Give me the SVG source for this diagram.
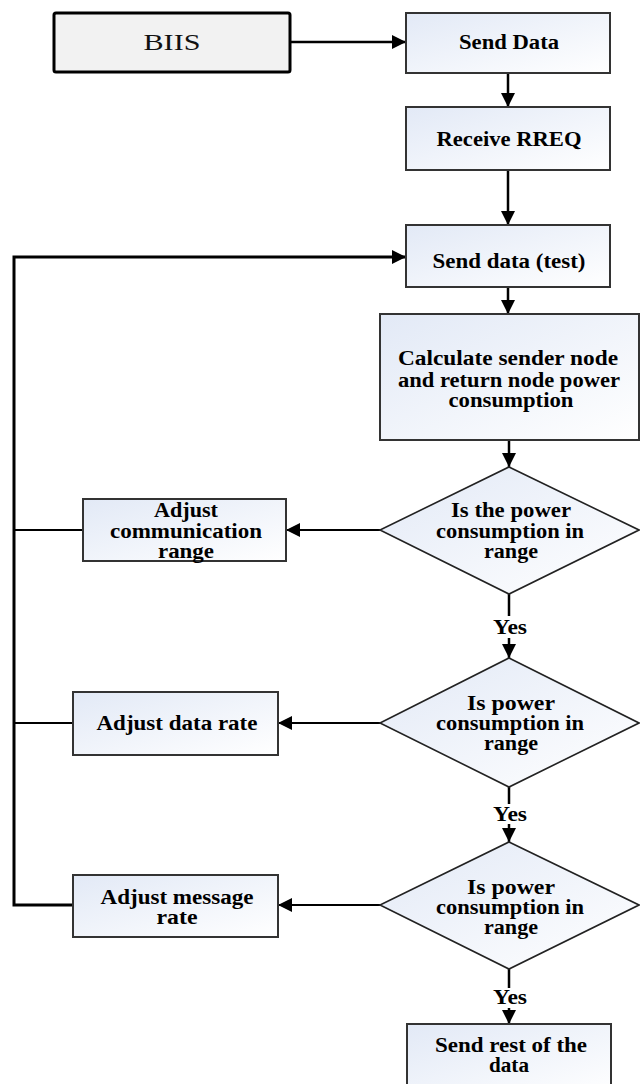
<svg xmlns="http://www.w3.org/2000/svg" width="640" height="1084" viewBox="0 0 640 1084">
<defs>
<linearGradient id="bf" x1="0" y1="0" x2="1" y2="1">
<stop offset="0" stop-color="#e2e9f6"/>
<stop offset="1" stop-color="#ffffff"/>
</linearGradient>
<marker id="ah" viewBox="0 0 14 14" refX="14" refY="7" markerWidth="14" markerHeight="14" markerUnits="userSpaceOnUse" orient="auto">
<path d="M0,0 L14,7 L0,14 z" fill="#000"/>
</marker>
</defs>
<style>
.box{fill:url(#bf);stroke:#333;stroke-width:2}
.dia{fill:url(#bf);stroke:#222;stroke-width:1.6}
.t{font-family:"Liberation Serif","Times New Roman",serif;font-weight:bold;font-size:20px;fill:#000;text-anchor:middle}
.c{fill:none;stroke:#000;stroke-width:2.5}
.c2{fill:none;stroke:#000;stroke-width:2}
.loop{fill:none;stroke:#000;stroke-width:3}
</style>
<rect width="640" height="1084" fill="#fff"/>
<g id="connectors">
<path class="c" d="M290,42 H406" marker-end="url(#ah)"/>
<path class="c" d="M508,73 V107" marker-end="url(#ah)"/>
<path class="c" d="M508,170 V225" marker-end="url(#ah)"/>
<path class="c" d="M508,287 V314" marker-end="url(#ah)"/>
<path class="c" d="M509,440 V467" marker-end="url(#ah)"/>
<path class="c2" d="M380,530 H286" marker-end="url(#ah)"/>
<path class="c2" d="M380,723 H278" marker-end="url(#ah)"/>
<path class="c2" d="M380,905 H278" marker-end="url(#ah)"/>
<path class="c" d="M509,594 V616"/>
<path class="c" d="M509,638 V658" marker-end="url(#ah)"/>
<path class="c" d="M509,787 V804"/>
<path class="c" d="M509,824 V842" marker-end="url(#ah)"/>
<path class="c" d="M509,969 V988"/>
<path class="c" d="M509,1008 V1024" marker-end="url(#ah)"/>
<path class="loop" d="M74,905 H14 V257 H406" marker-end="url(#ah)"/>
<path class="c2" d="M83,530 H14"/>
<path class="c2" d="M73,723 H14"/>
<text class="t" x="510" y="634" textLength="34" lengthAdjust="spacingAndGlyphs">Yes</text>
<text class="t" x="510" y="821" textLength="34" lengthAdjust="spacingAndGlyphs">Yes</text>
<text class="t" x="510" y="1004" textLength="34" lengthAdjust="spacingAndGlyphs">Yes</text>
</g>
<g id="biis">
<rect x="54" y="13" width="236" height="59" fill="#f2f2f2" stroke="#000" stroke-width="3" rx="2"/>
<text x="172" y="50" font-family="Liberation Serif, Times New Roman, serif" font-size="23" text-anchor="middle" fill="#111" textLength="57" lengthAdjust="spacingAndGlyphs">BIIS</text>
</g>
<g id="send-data">
<rect class="box" x="406" y="13" width="204" height="60"/>
<text class="t" x="509" y="49" textLength="100" lengthAdjust="spacingAndGlyphs">Send Data</text>
</g>
<g id="receive-rreq">
<rect class="box" x="406" y="107" width="204" height="63"/>
<text class="t" x="509" y="146" textLength="145" lengthAdjust="spacingAndGlyphs">Receive RREQ</text>
</g>
<g id="send-test">
<rect class="box" x="406" y="225" width="204" height="62"/>
<text class="t" x="509" y="268" textLength="153" lengthAdjust="spacingAndGlyphs">Send data (test)</text>
</g>
<g id="calculate">
<rect class="box" x="380" y="314" width="259" height="126"/>
<text class="t" x="508" y="365" textLength="220" lengthAdjust="spacingAndGlyphs">Calculate sender node</text>
<text class="t" x="509" y="387" textLength="222" lengthAdjust="spacingAndGlyphs">and return node power</text>
<text class="t" x="511" y="407" textLength="125" lengthAdjust="spacingAndGlyphs">consumption</text>
</g>
<g id="decision-1">
<polygon class="dia" points="509,467 639,530 509,594 380,530"/>
<text class="t" x="511" y="517" textLength="120" lengthAdjust="spacingAndGlyphs">Is the power</text>
<text class="t" x="510" y="538" textLength="148" lengthAdjust="spacingAndGlyphs">consumption in</text>
<text class="t" x="511" y="558" textLength="54" lengthAdjust="spacingAndGlyphs">range</text>
</g>
<g id="adjust-comm">
<rect class="box" x="83" y="499" width="203" height="62"/>
<text class="t" x="186" y="517" textLength="64" lengthAdjust="spacingAndGlyphs">Adjust</text>
<text class="t" x="186" y="538" textLength="152" lengthAdjust="spacingAndGlyphs">communication</text>
<text class="t" x="186" y="558" textLength="56" lengthAdjust="spacingAndGlyphs">range</text>
</g>
<g id="decision-2">
<polygon class="dia" points="509,658 639,723 509,787 380,723"/>
<text class="t" x="511" y="710" textLength="88" lengthAdjust="spacingAndGlyphs">Is power</text>
<text class="t" x="510" y="730" textLength="148" lengthAdjust="spacingAndGlyphs">consumption in</text>
<text class="t" x="511" y="750" textLength="54" lengthAdjust="spacingAndGlyphs">range</text>
</g>
<g id="adjust-data-rate">
<rect class="box" x="73" y="692" width="205" height="63"/>
<text class="t" x="177" y="730" textLength="161" lengthAdjust="spacingAndGlyphs">Adjust data rate</text>
</g>
<g id="decision-3">
<polygon class="dia" points="509,842 639,905 509,969 380,905"/>
<text class="t" x="511" y="894" textLength="88" lengthAdjust="spacingAndGlyphs">Is power</text>
<text class="t" x="510" y="914" textLength="148" lengthAdjust="spacingAndGlyphs">consumption in</text>
<text class="t" x="511" y="934" textLength="54" lengthAdjust="spacingAndGlyphs">range</text>
</g>
<g id="adjust-message-rate">
<rect class="box" x="73" y="875" width="205" height="62"/>
<text class="t" x="177" y="904" textLength="153" lengthAdjust="spacingAndGlyphs">Adjust message</text>
<text class="t" x="177" y="924" textLength="41" lengthAdjust="spacingAndGlyphs">rate</text>
</g>
<g id="send-rest">
<rect class="box" x="407" y="1024" width="204" height="72"/>
<text class="t" x="511" y="1052" textLength="152" lengthAdjust="spacingAndGlyphs">Send rest of the</text>
<text class="t" x="509" y="1072" textLength="40" lengthAdjust="spacingAndGlyphs">data</text>
</g>
</svg>
